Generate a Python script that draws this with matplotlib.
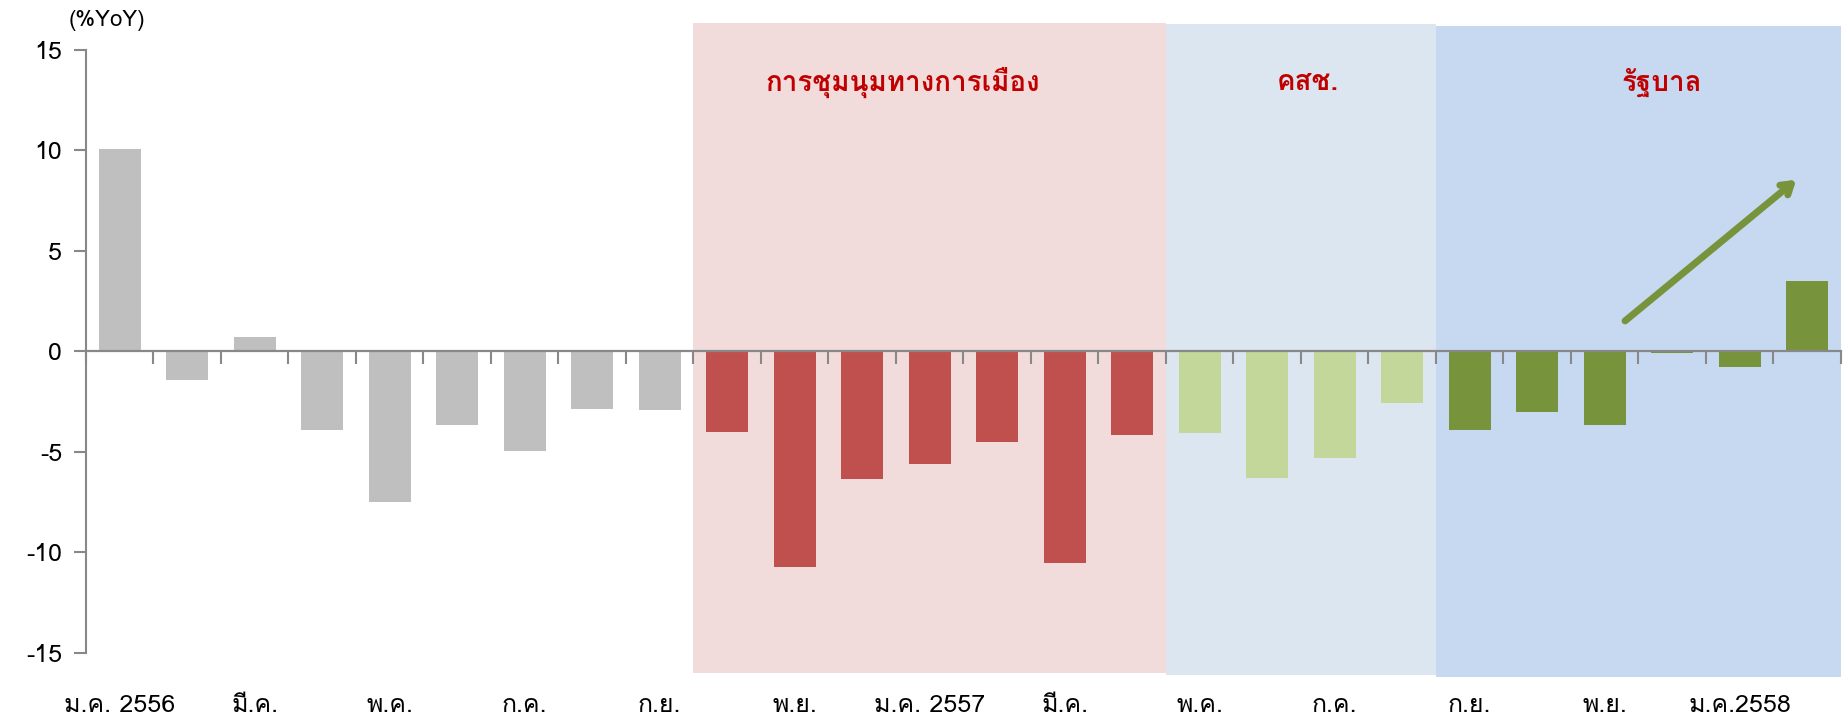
import matplotlib
matplotlib.use("Agg")
import matplotlib.pyplot as plt
import numpy as np
from matplotlib import font_manager
from matplotlib.ft2font import FT2Font


# ===========================================================
# Data (%YoY, monthly, Jan 2556 - Feb 2558)
# ===========================================================
values_before = [10.07, -1.43, 0.73, -3.91, -7.50, -3.66, -4.96, -2.84, -2.89]
values_protest = [-4.01, -10.73, -6.35, -5.61, -4.51, -10.53, -4.16]
values_ncpo = [-4.06, -6.30, -5.31, -2.57]
values_gov = [-3.91, -3.02, -3.66, -0.10, -0.78, 3.52]

tick_labels = ["ม.ค. 2556", "มี.ค.", "พ.ค.", "ก.ค.", "ก.ย.", "พ.ย.", "ม.ค. 2557",
               "มี.ค.", "พ.ค.", "ก.ค.", "ก.ย.", "พ.ย.", "ม.ค.2558"]
period_names = ["การชุมนุมทางการเมือง", "คสช.", "รัฐบาล"]


# ===========================================================
# Font: pick any installed font that has Thai glyphs
# ===========================================================
def find_thai_font():
    for f in font_manager.fontManager.ttflist:
        try:
            if ord("ก") in FT2Font(f.fname).get_charmap():
                return f.name
        except Exception:
            pass
    return "DejaVu Sans"


thai_font = find_thai_font()
plt.rcParams["font.family"] = [thai_font, "DejaVu Sans"]
plt.rcParams["axes.unicode_minus"] = False


# ===========================================================
# Colours
# ===========================================================
bar_colors = ["#BFBFBF", "#C0504D", "#C4D79B", "#77933C"]
span_colors = ["#F2DCDB", "#DCE6F1", "#C6D9F1"]
span_ylims = [(0.0153, 0.9953), (0.0123, 0.9938), (0.0093, 0.9908)]
axis_gray = "#888888"
label_red = "#C00000"


# ===========================================================
# Figure
# ===========================================================
groups = [values_before, values_protest, values_ncpo, values_gov]
values = np.concatenate(groups)
colors = np.concatenate([[c] * len(g) for c, g in zip(bar_colors, groups)])
x = np.arange(len(values))
edges = np.cumsum([0] + [len(g) for g in groups]) - 0.5

fig = plt.figure(figsize=(18.45, 7.24), dpi=100)
ax = fig.add_axes([0.0466, 0.0566, 0.9512, 0.916])

# shaded periods
for i, (c, (lo, hi)) in enumerate(zip(span_colors, span_ylims)):
    ax.axvspan(edges[i + 1], edges[i + 2], ymin=lo, ymax=hi,
               color=c, lw=0, zorder=0)

ax.bar(x, values, width=0.62, color=colors, zorder=2)

ax.set_xlim(-0.5, len(values) - 0.5)
ax.set_ylim(-16.5, 16.5)

# y axis
ax.spines["left"].set_bounds(-15, 15)
ax.spines["left"].set_color(axis_gray)
ax.spines["left"].set_linewidth(1.5)
ax.set_yticks(np.arange(-15, 16, 5))
ax.tick_params(axis="y", direction="out", length=9, width=1.5,
               color=axis_gray, labelsize=18, pad=8)

# x axis line at zero with ticks at category boundaries
ax.spines["bottom"].set_position(("data", 0))
ax.spines["bottom"].set_color(axis_gray)
ax.spines["bottom"].set_linewidth(1.6)
ax.spines["bottom"].set_zorder(3)
ax.set_xticks(np.arange(len(values) + 1) - 0.5)
ax.set_xticklabels([])
ax.tick_params(axis="x", direction="out", length=9, width=1.5, color=axis_gray)
for s in ["top", "right"]:
    ax.spines[s].set_visible(False)

# month labels at the bottom
sec = ax.secondary_xaxis("bottom")
sec.set_xticks(x[::2])
sec.set_xticklabels(tick_labels, fontsize=18)
sec.tick_params(length=0, pad=8)
sec.spines["bottom"].set_visible(False)

ax.grid(False)

# period titles
title_x = [11.6, 17.6, 22.85]
for tx, name in zip(title_x, period_names):
    ax.text(tx, 13.4, name, color=label_red, fontsize=20, fontweight="bold",
            ha="center", va="center", zorder=4)

fig.text(0.058, 0.972, "(%YoY)", fontsize=16, ha="center", va="center")

# trend arrow
ax.annotate("", xy=(24.87, 8.63), xytext=(22.27, 1.43),
            arrowprops=dict(arrowstyle="->,head_length=0.7,head_width=0.45",
                            color="#77933C", lw=5), zorder=4)

plt.savefig("out.png", dpi=100)
